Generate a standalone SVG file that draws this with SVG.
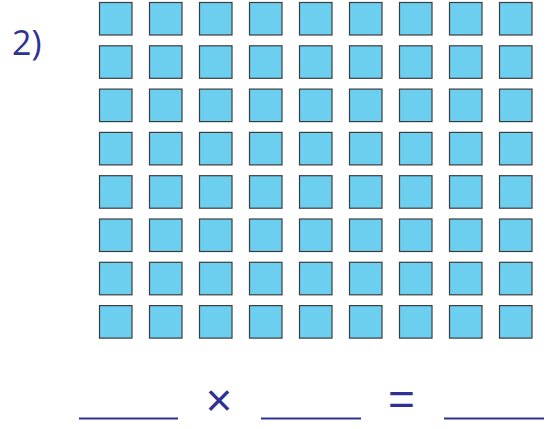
<svg xmlns="http://www.w3.org/2000/svg" width="550" height="429" viewBox="0 0 550 429">
<defs>
<style>
.sq{fill:#6dcff0;stroke:#3c3c3c;stroke-width:1.2}
.t{fill:#2e3192;font-family:"Open Sans","Liberation Sans",sans-serif}
.op{fill:#2e3192;font-family:"Liberation Sans",Arial,sans-serif;font-size:46px}
.ln{stroke:#2e3192;stroke-width:2.2}
</style>
<rect id="s" class="sq" x="99.5" y="2.5" width="32.5" height="32.5"/>
<g id="row">
<use href="#s"/><use href="#s" x="50"/><use href="#s" x="100"/><use href="#s" x="150"/><use href="#s" x="200"/><use href="#s" x="250"/><use href="#s" x="300"/><use href="#s" x="350"/><use href="#s" x="400"/>
</g>
</defs>
<rect width="550" height="429" fill="#fff"/>
<g id="label"><text class="t" x="12" y="55" font-size="34">2)</text></g>
<g id="grid">
<use href="#row"/>
<use href="#row" y="43.3"/>
<use href="#row" y="86.6"/>
<use href="#row" y="129.9"/>
<use href="#row" y="173.2"/>
<use href="#row" y="216.5"/>
<use href="#row" y="259.8"/>
<use href="#row" y="303.1"/>
</g>
<g id="equation">
<line class="ln" x1="79" y1="418.5" x2="178" y2="418.5"/>
<text class="op" x="219" y="416" text-anchor="middle">×</text>
<line class="ln" x1="261" y1="418.5" x2="361" y2="418.5"/>
<text class="op" x="401.5" y="415" text-anchor="middle">=</text>
<line class="ln" x1="444" y1="418.5" x2="544" y2="418.5"/>
</g>
</svg>
